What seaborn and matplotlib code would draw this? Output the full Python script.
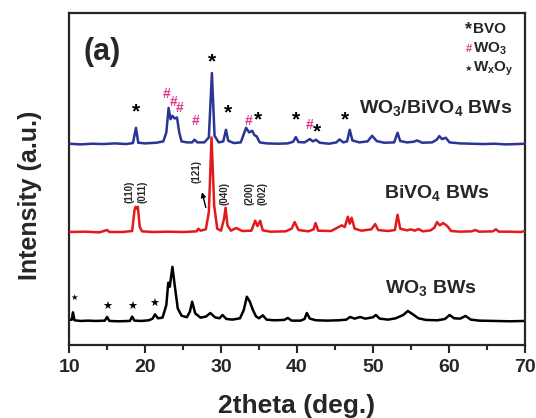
# XRD patterns: WO3 BWs, BiVO4 BWs, WO3/BiVO4 BWs (stacked, offset)

import seaborn as sns
import matplotlib.pyplot as plt

# -------------------- data (2theta, offset intensity) --------------------
wo3_pattern = [(10.0, 7.5), (10.35, 7.6), (10.5, 9.8), (10.7, 7.4), (11.5, 7.2), (12.5, 7.3),
               (13.5, 7.2), (14.7, 7.3), (15.0, 8.4), (15.3, 7.2), (16.5, 7.1), (18.0, 7.2),
               (18.3, 8.5), (18.6, 7.3), (19.5, 7.2), (20.5, 7.4), (21.0, 7.9), (21.3, 9.2),
               (21.7, 8.0), (22.3, 8.2), (22.8, 12.0), (23.05, 18.7), (23.25, 17.5), (23.6, 23.5),
               (23.9, 18.0), (24.3, 11.0), (24.8, 8.8), (25.5, 8.3), (25.9, 10.0), (26.2, 13.0),
               (26.6, 9.5), (27.3, 8.2), (28.0, 8.5), (28.6, 9.6), (29.2, 8.3), (29.8, 8.0),
               (30.2, 9.0), (30.7, 7.8), (31.5, 7.6), (32.5, 8.0), (33.0, 10.5), (33.4, 14.5),
               (33.8, 13.0), (34.2, 10.5), (34.6, 8.6), (35.0, 8.0), (35.5, 8.9), (36.0, 7.6),
               (37.0, 7.4), (38.3, 7.5), (38.8, 8.1), (39.3, 7.3), (40.5, 7.3), (41.0, 7.8),
               (41.3, 9.6), (41.7, 7.9), (42.5, 7.4), (44.0, 7.3), (45.5, 7.4), (46.5, 7.6),
               (47.0, 8.4), (47.6, 7.9), (48.3, 8.4), (49.0, 7.9), (50.0, 8.3), (50.4, 9.0),
               (50.9, 7.9), (52.0, 7.6), (53.0, 8.0), (54.0, 9.0), (54.6, 10.2), (55.2, 9.3),
               (56.0, 8.0), (57.0, 7.5), (58.5, 7.4), (59.5, 7.8), (60.1, 9.0), (60.7, 8.0),
               (61.5, 7.9), (62.2, 8.7), (62.9, 7.6), (64.0, 7.3), (66.0, 7.2), (68.0, 7.1),
               (70.0, 7.2)]

bivo4_pattern = [(10.0, 34.0), (12.0, 34.1), (14.0, 33.9), (15.0, 34.6), (15.3, 34.0), (17.0, 34.0),
                 (18.3, 34.3), (18.6, 40.5), (18.75, 41.6), (18.9, 41.0), (19.05, 41.6), (19.3, 35.5),
                 (19.6, 34.2), (21.0, 34.0), (23.0, 34.1), (25.0, 34.0), (26.8, 34.2), (27.0, 35.0),
                 (27.3, 34.4), (28.0, 34.8), (28.4, 40.0), (28.75, 62.5), (29.1, 42.0), (29.5, 35.0),
                 (30.0, 34.4), (30.4, 38.0), (30.6, 41.3), (30.85, 36.0), (31.3, 34.4), (32.0, 35.2),
                 (32.8, 34.3), (34.0, 34.4), (34.5, 37.4), (34.8, 35.8), (35.15, 37.4), (35.5, 34.5),
                 (36.5, 34.1), (38.5, 34.2), (39.3, 35.0), (39.7, 37.0), (40.2, 34.6), (41.5, 34.2),
                 (42.2, 34.8), (42.45, 36.7), (42.8, 34.4), (44.5, 34.3), (45.9, 36.0), (46.3, 35.5),
                 (46.7, 38.6), (46.95, 36.5), (47.2, 38.3), (47.6, 35.0), (48.5, 34.4), (49.8, 34.8),
                 (50.3, 36.4), (50.7, 34.6), (52.0, 34.3), (52.9, 34.6), (53.25, 39.2), (53.6, 35.0),
                 (54.5, 34.5), (55.0, 34.8), (55.5, 34.4), (56.0, 34.9), (56.6, 34.2), (57.6, 34.5),
                 (58.1, 35.3), (58.45, 37.0), (58.8, 36.0), (59.25, 36.7), (59.8, 35.8), (60.3, 34.3),
                 (61.5, 34.1), (63.0, 34.2), (63.5, 34.6), (64.0, 34.1), (65.8, 34.2), (66.2, 34.8),
                 (66.6, 34.1), (68.0, 34.1), (69.5, 34.0), (70.0, 34.3)]

composite_pattern = [(10.0, 60.6), (11.5, 60.4), (13.0, 60.6), (14.5, 60.5), (16.0, 60.7), (17.5, 60.5),
                     (18.4, 60.8), (18.8, 65.4), (19.1, 60.9), (20.0, 60.7), (21.5, 60.9), (22.4, 61.3),
                     (22.8, 64.0), (23.1, 71.4), (23.35, 68.0), (23.6, 69.0), (23.9, 68.2), (24.2, 68.5),
                     (24.5, 64.0), (24.8, 61.3), (25.5, 61.0), (26.2, 61.0), (26.5, 61.8), (26.9, 61.0),
                     (27.8, 61.0), (28.4, 62.5), (28.8, 81.9), (29.15, 63.0), (29.7, 61.0), (30.3, 61.3),
                     (30.65, 64.8), (30.95, 61.5), (31.7, 60.8), (32.6, 61.0), (33.0, 63.5), (33.3, 65.4),
                     (33.7, 64.0), (34.1, 64.5), (34.4, 63.2), (34.7, 62.8), (35.1, 61.0), (36.0, 60.7),
                     (37.5, 60.6), (38.8, 60.7), (39.5, 61.2), (39.85, 62.6), (40.2, 61.1), (41.0, 61.0),
                     (41.7, 62.0), (42.1, 61.3), (42.5, 61.8), (43.0, 60.9), (44.2, 60.6), (45.2, 61.0),
                     (45.6, 61.9), (46.1, 61.0), (46.6, 61.3), (46.95, 64.8), (47.3, 61.6), (48.2, 61.0),
                     (49.3, 61.3), (49.9, 63.0), (50.5, 61.4), (51.5, 60.9), (52.8, 61.0), (53.25, 63.9),
                     (53.6, 61.4), (54.5, 61.0), (55.4, 61.2), (55.8, 61.6), (56.5, 60.9), (57.8, 61.0),
                     (58.4, 61.8), (58.75, 62.9), (59.1, 62.0), (59.6, 62.4), (60.1, 61.0), (61.5, 60.7),
                     (63.0, 60.6), (64.5, 60.5), (66.0, 60.6), (67.5, 60.4), (69.0, 60.5), (70.0, 60.6)]

# peak markers
bvo_marks = [(18.8, 70.2), (28.8, 85.2), (30.9, 69.9), (34.9, 67.8), (39.9, 67.8), (42.6, 64.2), (46.3, 67.8)]
wo3_marks = [(22.8, 75.6), (23.7, 73.2), (24.6, 71.4), (26.6, 67.5), (33.6, 67.5), (41.7, 66.3)]
wxoy_marks = [(10.7, 14.2), (15.0, 11.4), (18.3, 11.4), (21.2, 12.3)]

# Miller indices of BiVO4 (label, 2theta, y)
hkl_labels = [("(110)", 18.0, 46.0), ("(011)", 19.6, 46.0), ("(121)", 26.8, 52.1),
              ("(040)", 30.5, 45.5), ("(200)", 33.7, 45.5), ("(002)", 35.4, 45.5)]

blue = '#2b3595'
red = '#e3191c'
pink = '#e0358c'

# -------------------- style --------------------
sns.set_style("ticks")
plt.rcParams['font.family'] = ['Liberation Sans', 'DejaVu Sans']
plt.rcParams['font.weight'] = 'bold'
plt.rcParams['mathtext.fontset'] = 'custom'
plt.rcParams['mathtext.rm'] = 'Liberation Sans:bold'
plt.rcParams['mathtext.it'] = 'Liberation Sans:bold'
plt.rcParams['mathtext.bf'] = 'Liberation Sans:bold'

fig = plt.figure(figsize=(5.36, 4.18), dpi=100)
ax = fig.add_axes([0.129, 0.175, 0.850, 0.794])

for pattern, col, z in [(wo3_pattern, 'black', 2), (bivo4_pattern, red, 3), (composite_pattern, blue, 4)]:
    xs = [p[0] for p in pattern]
    ys = [p[1] for p in pattern]
    sns.lineplot(x=xs, y=ys, color=col, linewidth=1.8, ax=ax, zorder=z)

# -------------------- peak annotations --------------------
for x, y in bvo_marks:
    ax.text(x, y, "*", color='black', fontsize=15, ha='center', va='center')
for x, y in wo3_marks:
    ax.text(x, y, "#", color=pink, fontsize=10, ha='center', va='center')
for i, (x, y) in enumerate(wxoy_marks):
    ax.text(x, y, "\u2605", color='black', fontsize=6 if i == 0 else 8,
            ha='center', va='center', family=['DejaVu Sans'])

for lab, x, y in hkl_labels:
    ax.text(x, y, lab, rotation=90, fontsize=7, ha='center', va='center')
ax.annotate("", xy=(27.5, 46.0), xytext=(28.0, 41.4),
            arrowprops=dict(arrowstyle='-|>', color='black', lw=1.0, mutation_scale=7,
                            shrinkA=0, shrinkB=0))

# sample labels
ax.text(68.3, 71.4, "WO$_3$/BiVO$_4$ BWs", fontsize=14, ha='right', va='center')
ax.text(65.4, 45.8, "BiVO$_4$ BWs", fontsize=14, ha='right', va='center')
ax.text(63.7, 17.2, "WO$_3$ BWs", fontsize=14, ha='right', va='center')
ax.text(14.3, 88.3, "(a)", fontsize=22, ha='center', va='center')

# legend block (top right)
ax.text(62.6, 95.1, "*", fontsize=13, ha='center', va='center')
ax.text(63.2, 95.1, "BVO", fontsize=11, ha='left', va='center')
ax.text(62.6, 89.2, "#", fontsize=8, color=pink, ha='center', va='center')
ax.text(63.2, 89.2, "WO$_3$", fontsize=11, ha='left', va='center')
ax.text(62.6, 83.2, "\u2605", fontsize=6, ha='center', va='center', family=['DejaVu Sans'])
ax.text(63.2, 83.2, "W$_x$O$_y$", fontsize=11, ha='left', va='center')

# -------------------- axes --------------------
ax.set_xlim(10, 70)
ax.set_ylim(0, 100)
ax.set_yticks([])
ax.set_xticks(range(10, 71, 10))
ax.set_xticks(range(15, 70, 10), minor=True)
ax.tick_params(axis='x', which='major', direction='out', length=6, width=1.5, labelsize=14, pad=4)
ax.tick_params(axis='x', which='minor', direction='out', length=3.5, width=1.5)
for s in ax.spines.values():
    s.set_visible(True)
    s.set_linewidth(1.6)
ax.set_xlabel("2theta (deg.)", fontsize=19, fontweight='bold', labelpad=13)
ax.set_ylabel("Intensity (a.u.)", fontsize=18, fontweight='bold')
ax.yaxis.set_label_coords(-0.06, 0.45)

fig.savefig("out.png", dpi=100)
